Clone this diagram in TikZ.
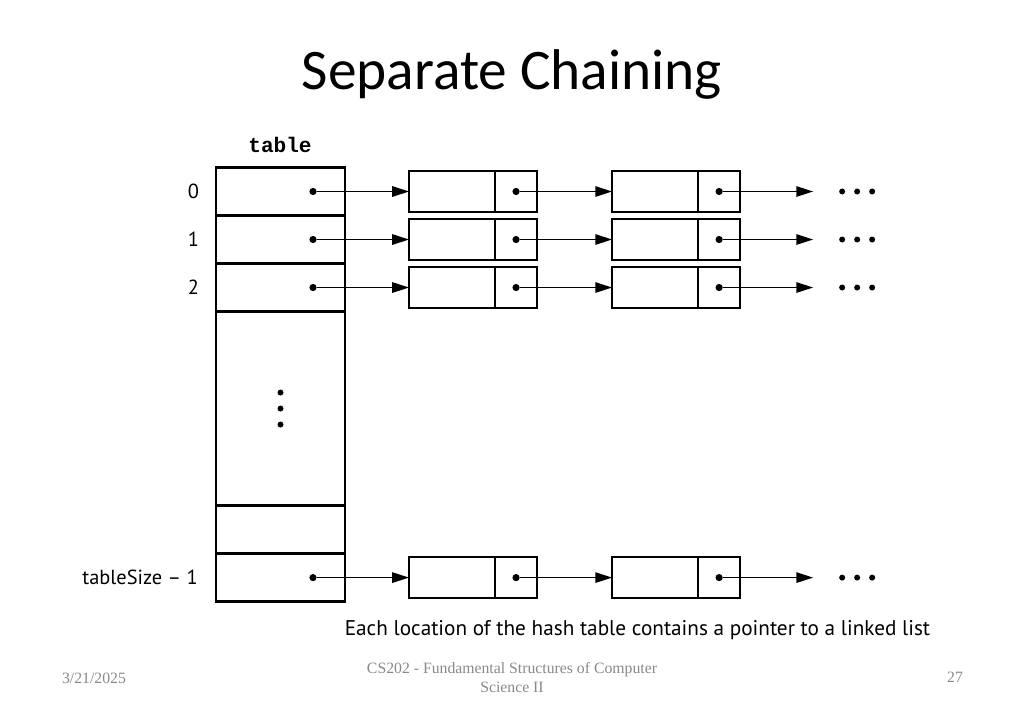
\documentclass[tikz,border=0pt]{standalone}
\usepackage{fontspec}
\setmainfont{PT Sans}
\newfontfamily\titlefont{Carlito}
\newfontfamily\footfont{Liberation Serif}
\newfontfamily\codefont{Liberation Mono}
\usepackage{xcolor}
\usepackage{tikz}
\usetikzlibrary{positioning,arrows.meta}
\definecolor{footgray}{RGB}{137,137,137}
\tikzset{slot/.style={rectangle,draw,line width=1.9pt,minimum width=3.225cm,minimum height=1.2cm,outer sep=0pt,inner sep=0pt},}
\tikzset{data field/.style={rectangle,draw,line width=1.9pt,minimum width=2.15cm,minimum height=1.025cm,outer sep=0pt,inner sep=0pt},}
\tikzset{link field/.style={data field,minimum width=1.05cm},}
\tikzset{ptr/.style={circle,fill,inner sep=0pt,outer sep=0pt,minimum size=0.18cm},}
\tikzset{dot/.style={circle,fill,inner sep=0pt,outer sep=0pt,minimum size=0.15cm},}
\tikzset{index/.style={inner sep=0pt,font=\fontsize{14.5}{17}\selectfont},}
\tikzset{footer/.style={inner sep=0pt,anchor=base,text=footgray,font=\footfont\fontsize{11.2}{13}\selectfont},}
\tikzset{link/.style={line width=1.1pt,-{Triangle[length=4.2mm,width=2.6mm]}},}

\begin{document}
\begin{tikzpicture}[x=0.025cm,y=-0.025cm]
       \useasboundingbox (0,0) rectangle (1024,709);
       \node[anchor=base,inner sep=0pt,font=\titlefont\fontsize{40.8}{48}\selectfont] (title) at (512,90) {Separate Chaining};
       \node[font=\codefont\bfseries\fontsize{15}{18}\selectfont] (name) at (280,145) {table};

       % the table
       \node[slot] (s0) at (280.5,191.5) {};
       \node[slot] (s1) [below = 0pt of s0] {};
       \node[slot] (s2) [below = 0pt of s1] {};
       \node[slot,minimum height=4.85cm] (gap) [below = 0pt of s2] {};
       \node[slot] (s4) [below = 0pt of gap] {};
       \node[slot] (s5) [below = 0pt of s4] {};

       \node[index] (i0) [left = 0.42cm of s0] {0};
       \node[index] (i1) [left = 0.42cm of s1] {1};
       \node[index] (i2) [left = 0.42cm of s2] {2};
       \node[index] (i5) [left = 0.45cm of s5] {tableSize – 1};

       \node[dot] (v2) at (gap) {};
       \node[dot] (v1) [above = 0.25cm of v2] {};
       \node[dot] (v3) [below = 0.25cm of v2] {};

       % row 0
       \node[ptr] (p0) at ([xshift=-0.8cm]s0.east) {};
       \node[data field] (d0a) [right = 1.6cm of s0] {};
       \node[link field] (l0a) [right = 0pt of d0a] {};
       \node[ptr] (q0a) at (l0a) {};
       \node[data field] (d0b) [right = 1.875cm of l0a] {};
       \node[link field] (l0b) [right = 0pt of d0b] {};
       \node[ptr] (q0b) at (l0b) {};
       \coordinate[right = 1.825cm of l0b] (e0);
       \node[dot] (m0a) [right = 0.65cm of e0] {};
       \node[dot] (m0b) [right = 0.225cm of m0a] {};
       \node[dot] (m0c) [right = 0.225cm of m0b] {};

       % row 1
       \node[ptr] (p1) at ([xshift=-0.8cm]s1.east) {};
       \node[data field] (d1a) [right = 1.6cm of s1] {};
       \node[link field] (l1a) [right = 0pt of d1a] {};
       \node[ptr] (q1a) at (l1a) {};
       \node[data field] (d1b) [right = 1.875cm of l1a] {};
       \node[link field] (l1b) [right = 0pt of d1b] {};
       \node[ptr] (q1b) at (l1b) {};
       \coordinate[right = 1.825cm of l1b] (e1);
       \node[dot] (m1a) [right = 0.65cm of e1] {};
       \node[dot] (m1b) [right = 0.225cm of m1a] {};
       \node[dot] (m1c) [right = 0.225cm of m1b] {};

       % row 2
       \node[ptr] (p2) at ([xshift=-0.8cm]s2.east) {};
       \node[data field] (d2a) [right = 1.6cm of s2] {};
       \node[link field] (l2a) [right = 0pt of d2a] {};
       \node[ptr] (q2a) at (l2a) {};
       \node[data field] (d2b) [right = 1.875cm of l2a] {};
       \node[link field] (l2b) [right = 0pt of d2b] {};
       \node[ptr] (q2b) at (l2b) {};
       \coordinate[right = 1.825cm of l2b] (e2);
       \node[dot] (m2a) [right = 0.65cm of e2] {};
       \node[dot] (m2b) [right = 0.225cm of m2a] {};
       \node[dot] (m2c) [right = 0.225cm of m2b] {};

       % last row
       \node[ptr] (p5) at ([xshift=-0.8cm]s5.east) {};
       \node[data field] (d5a) [right = 1.6cm of s5] {};
       \node[link field] (l5a) [right = 0pt of d5a] {};
       \node[ptr] (q5a) at (l5a) {};
       \node[data field] (d5b) [right = 1.875cm of l5a] {};
       \node[link field] (l5b) [right = 0pt of d5b] {};
       \node[ptr] (q5b) at (l5b) {};
       \coordinate[right = 1.825cm of l5b] (e5);
       \node[dot] (m5a) [right = 0.65cm of e5] {};
       \node[dot] (m5b) [right = 0.225cm of m5a] {};
       \node[dot] (m5c) [right = 0.225cm of m5b] {};

       \draw[link] (p0) -- (d0a);
       \draw[link] (q0a) -- (d0b);
       \draw[link] (q0b) -- (e0);
       \draw[link] (p1) -- (d1a);
       \draw[link] (q1a) -- (d1b);
       \draw[link] (q1b) -- (e1);
       \draw[link] (p2) -- (d2a);
       \draw[link] (q2a) -- (d2b);
       \draw[link] (q2b) -- (e2);
       \draw[link] (p5) -- (d5a);
       \draw[link] (q5a) -- (d5b);
       \draw[link] (q5b) -- (e5);

       \node[anchor=base,inner sep=0pt,font=\fontsize{15.1}{17}\selectfont] (caption) at (637.5,635) {Each location of the hash table contains a pointer to a linked list};

       \node[footer] (date) at (94,683) {3/21/2025};
       \node[footer] (course) at (512,673) {CS202 - Fundamental Structures of Computer};
       \node[footer] (course2) [below = 0.475cm of course.base, anchor=base] {Science II};
       \node[footer] (page) at (955,682) {27};
\end{tikzpicture}
\end{document}
